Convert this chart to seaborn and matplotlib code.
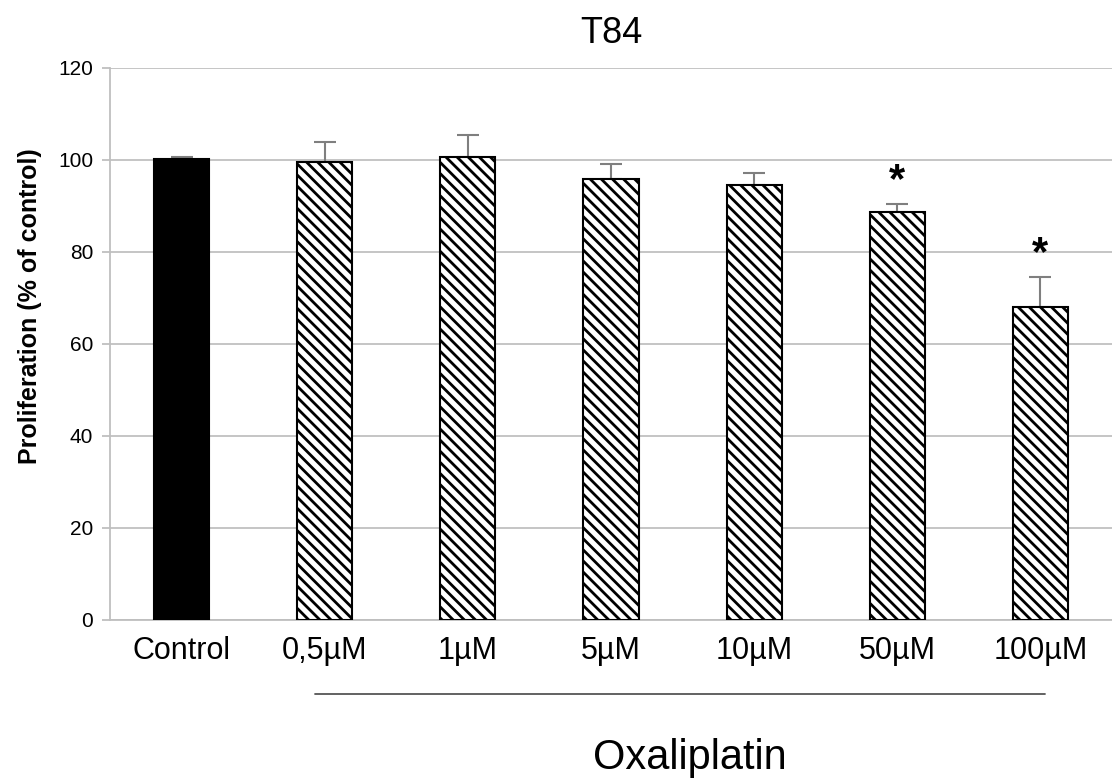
import numpy as np
import pandas as pd
import seaborn as sns
import matplotlib.pyplot as plt
from matplotlib import transforms

# valeurs
doses = ['Control', '0,5µM', '1µM', '5µM', '10µM', '50µM', '100µM']
proliferation = [100.2, 99.6, 100.7, 95.9, 94.6, 88.7, 68.0]
sem = [0.5, 4.3, 4.7, 3.2, 2.6, 1.7, 6.6]
significant = [False, False, False, False, False, True, True]

sns.set_style('white')
plt.rcParams['font.family'] = ['Liberation Sans', 'DejaVu Sans']
plt.rcParams['hatch.linewidth'] = 2.0
plt.rcParams['text.color'] = 'black'
plt.rcParams['axes.labelcolor'] = 'black'
plt.rcParams['xtick.color'] = 'black'
plt.rcParams['ytick.color'] = 'black'

df = pd.DataFrame({'dose': doses, 'prolif': proliferation})

fig = plt.figure(figsize=(11.12, 7.78), dpi=100)
ax = fig.add_axes([0.0989, 0.2031, 0.9011, 0.7095])

colors = ['black'] + ['white'] * (len(doses) - 1)
sns.barplot(data=df, x='dose', y='prolif', hue='dose', palette=colors,
            legend=False, width=0.385, edgecolor='black', linewidth=1.5,
            errorbar=None, ax=ax, zorder=3)

# hachures pour les doses d'oxaliplatine
for i, p in enumerate(ax.patches):
    if i > 0:
        p.set_hatch('\\\\\\')

# barres d'erreur vers le haut seulement
xpos = np.arange(len(doses))
ax.errorbar(xpos, proliferation, yerr=[np.zeros(len(sem)), sem], fmt='none',
            ecolor='#7f7f7f', elinewidth=1.5, capsize=8, capthick=1.5, zorder=2)

# étoiles de significativité
for i, sig in enumerate(significant):
    if sig:
        ax.text(i, proliferation[i] + sem[i] + 5.0, '*', ha='center', va='center',
                fontsize=30, fontweight='bold')

ax.set_ylim(0, 120)
ax.set_xlim(-0.5, len(doses) - 0.5)
ax.set_yticks(range(0, 121, 20))
ax.yaxis.grid(True, color='#c0c0c0', linewidth=1.3, zorder=0)
ax.set_axisbelow(True)

for side in ['top', 'right']:
    ax.spines[side].set_visible(False)
ax.spines['left'].set_color('#bfbfbf')
ax.spines['left'].set_linewidth(1.3)
ax.spines['bottom'].set_color('#bfbfbf')
ax.spines['bottom'].set_linewidth(1.3)

ax.tick_params(axis='y', left=True, length=6, color='#bfbfbf', width=1.3,
               labelsize=15, labelcolor='black', pad=6)
ax.tick_params(axis='x', bottom=False, labelsize=22, labelcolor='black', pad=8)

ax.set_xlabel('')
ax.set_ylabel('Proliferation (% of control)', fontsize=18, fontweight='bold')
ax.yaxis.set_label_coords(-0.068, 0.568)
ax.set_title('T84', fontsize=26, pad=18)

# trait sous les doses + légende Oxaliplatin
trans = transforms.blended_transform_factory(ax.transData, ax.transAxes)
ax.plot([0.93, 6.03], [-0.134, -0.134], color='#555555', linewidth=1.3,
        transform=trans, clip_on=False)
ax.text(3.55, -0.25, 'Oxaliplatin', transform=trans, ha='center', va='center',
        fontsize=30)

fig.savefig('out.png', dpi=100)
plt.close(fig)
